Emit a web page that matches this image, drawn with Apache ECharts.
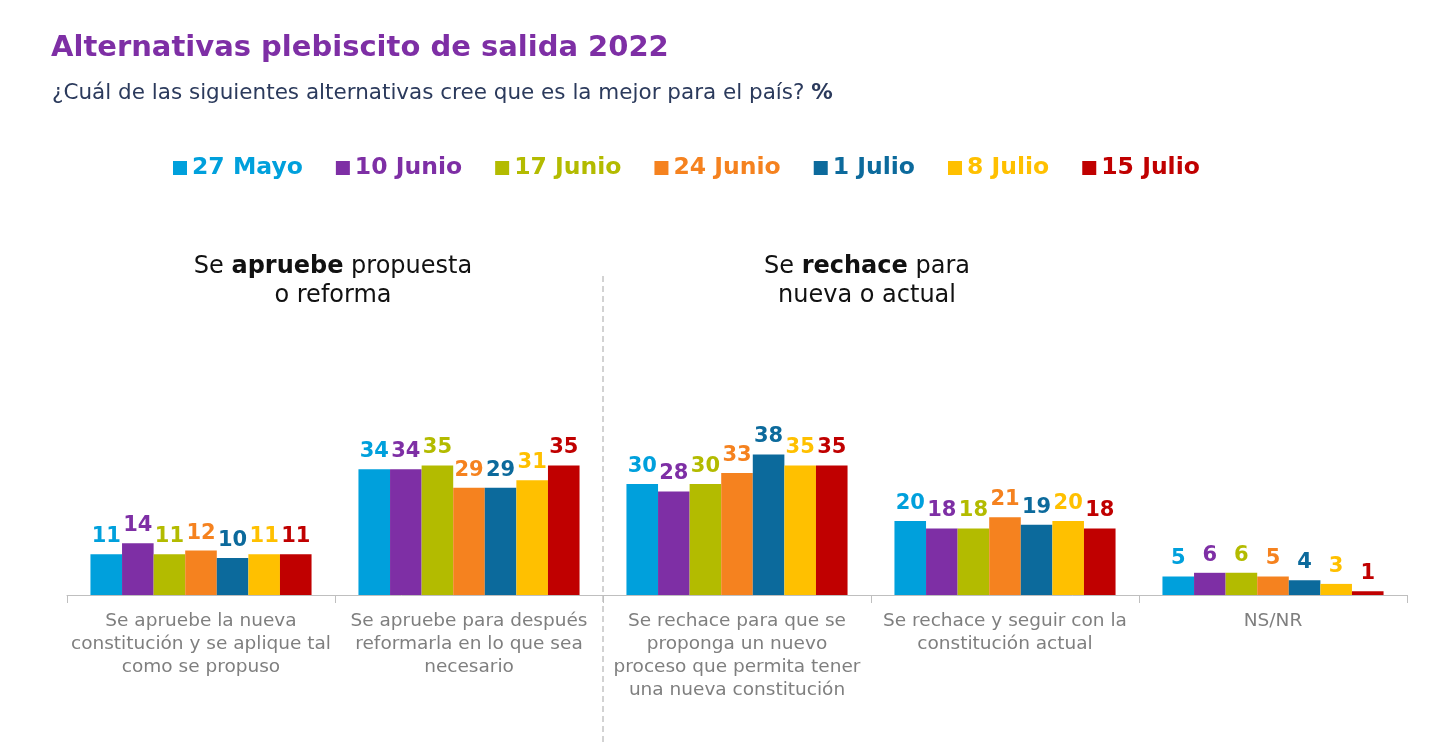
<!DOCTYPE html>
<html>
<head>
<meta charset="utf-8">
<script src="https://cdn.jsdelivr.net/npm/echarts@6/dist/echarts.min.js"></script>
<style>
  html, body { margin: 0; padding: 0; background: #fff; }
  #chart { width: 1440px; height: 746px; }
</style>
</head>
<body>
<div id="chart"></div>
<script>
const categories = [
  "Se apruebe la nueva\nconstitución y se aplique tal\ncomo se propuso",
  "Se apruebe para después\nreformarla en lo que sea\nnecesario",
  "Se rechace para que se\nproponga un nuevo\nproceso que permita tener\nuna nueva constitución",
  "Se rechace y seguir con la\nconstitución actual",
  "NS/NR"
];
const dates = ["27 Mayo", "10 Junio", "17 Junio", "24 Junio", "1 Julio", "8 Julio", "15 Julio"];
const colors = ["#00A0DC", "#7E2FA5", "#B3BB00", "#F5821F", "#0C6A9C", "#FFC000", "#C00000"];

const may27 = [11, 34, 30, 20, 5];
const jun10 = [14, 34, 28, 18, 6];
const jun17 = [11, 35, 30, 18, 6];
const jun24 = [12, 29, 33, 21, 5];
const jul1 = [10, 29, 38, 19, 4];
const jul8 = [11, 31, 35, 20, 3];
const jul15 = [11, 35, 35, 18, 1];
const values = [may27, jun10, jun17, jun24, jul1, jul8, jul15];

const font = "DejaVu Sans";

const chart = echarts.init(document.getElementById("chart"));

const series = dates.map((d, i) => ({
  name: d,
  type: "bar",
  data: values[i],
  barGap: "0%",
  barCategoryGap: "17.5%",
  itemStyle: { color: colors[i] },
  label: {
    show: true,
    position: "top",
    distance: 7,
    color: colors[i],
    fontFamily: font,
    fontWeight: "bold",
    fontSize: 21
  }
}));

chart.setOption({
  animation: false,
  color: colors,
  title: [
    {
      text: "Alternativas plebiscito de salida 2022",
      left: 46, top: 29,
      textStyle: { fontFamily: font, fontSize: 29, fontWeight: "bold", color: "#7E2FA5" }
    },
    {
      text: "¿Cuál de las siguientes alternativas cree que es la mejor para el país? {b|%}",
      left: 47, top: 77,
      textStyle: {
        fontFamily: font, fontSize: 21.5, fontWeight: "normal", color: "#2B3A5C",
        rich: { b: { fontFamily: font, fontSize: 21.5, fontWeight: "bold", color: "#2B3A5C" } }
      }
    },
    {
      text: "Se {b|apruebe} propuesta\no reforma",
      left: 328, top: 247, textAlign: "center",
      textStyle: {
        fontFamily: font, fontSize: 24, fontWeight: "normal", color: "#111", lineHeight: 29,
        rich: { b: { fontFamily: font, fontSize: 24, fontWeight: "bold", color: "#111", lineHeight: 29 } }
      }
    },
    {
      text: "Se {b|rechace} para\nnueva o actual",
      left: 862, top: 247, textAlign: "center",
      textStyle: {
        fontFamily: font, fontSize: 24, fontWeight: "normal", color: "#111", lineHeight: 29,
        rich: { b: { fontFamily: font, fontSize: 24, fontWeight: "bold", color: "#111", lineHeight: 29 } }
      }
    }
  ],
  legend: {
    data: dates.map((d, i) => ({ name: d, textStyle: { color: colors[i] } })),
    top: 151,
    left: 168,
    itemWidth: 14,
    itemHeight: 14,
    itemGap: 33,
    icon: "rect",
    textStyle: { fontFamily: font, fontSize: 23.5, fontWeight: "bold", padding: [0, 0, 0, 0] }
  },
  grid: { left: 67, right: 33, top: 447, bottom: 151 },
  xAxis: {
    type: "category",
    data: categories,
    axisLine: { lineStyle: { color: "#BFBFBF", width: 1 } },
    axisTick: { show: true, length: 8, lineStyle: { color: "#BFBFBF" } },
    axisLabel: {
      interval: 0,
      margin: 15,
      fontFamily: font,
      fontSize: 18.5,
      lineHeight: 23,
      color: "#7F7F7F"
    }
  },
  yAxis: {
    type: "value",
    min: 0,
    max: 40,
    show: false,
    splitLine: { show: false }
  },
  graphic: [
    {
      type: "line",
      shape: { x1: 603, y1: 276, x2: 603, y2: 746 },
      style: { stroke: "#A6A6A6", lineWidth: 1, lineDash: [6, 4] },
      z: 0
    }
  ],
  series: series
});
</script>
</body>
</html>
